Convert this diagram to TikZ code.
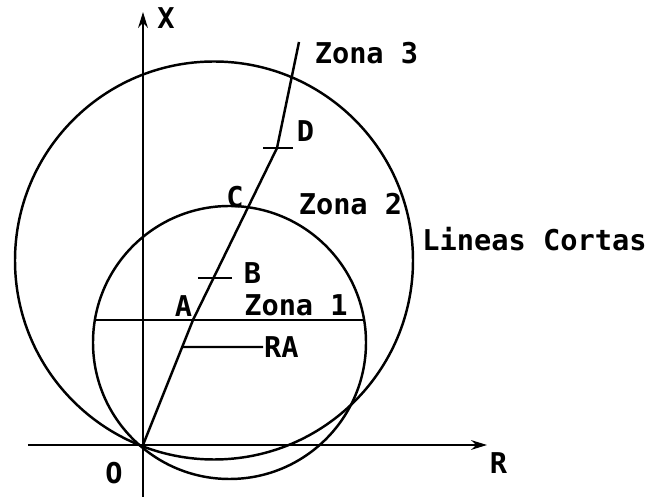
\documentclass[tikz,border=0pt]{standalone}
\usepackage{fontspec}
\setmonofont{DejaVu Sans Mono}
\usepackage{tikz}
\usetikzlibrary{arrows.meta, calc}

\begin{document}
\begin{tikzpicture}[>={Stealth[length=9pt, width=5.5pt]}, line width=1.4pt,
    lbl/.style={font=\ttfamily\bfseries\fontsize{16.3}{18}\selectfont, inner sep=0pt}]
  \useasboundingbox (-2.86, -1.12) rectangle (10.16, 8.9);

  \coordinate (O) at (0, 0);
  \coordinate (Xbot) at (0, -1.04);
  \coordinate (Xtop) at (0, 8.66);
  \coordinate (Rleft) at (-2.30, 0);
  \coordinate (Rright) at (6.88, 0);
  \draw[->] (Xbot) -- (Xtop);
  \draw[->] (Rleft) -- (Rright);

  \draw (1.73, 2.05) circle (2.73);
  \draw (1.42, 3.69) circle (3.98);

  \coordinate (Z1left) at (-0.96, 2.50);
  \coordinate (Z1right) at (4.42, 2.50);
  \draw (Z1left) -- (Z1right);

  \coordinate (A) at (1.00, 2.50);
  \coordinate (D) at (2.68, 5.94);
  \coordinate (Ltop) at (3.12, 8.06);
  \draw (O) -- (A) -- (D) -- (Ltop);

  \coordinate (B) at ($(A)!0.244!(D)$);
  \draw ($(B)+(-0.31, 0)$) -- ($(B)+(0.37, 0)$);
  \draw ($(D)+(-0.28, 0)$) -- ($(D)+(0.32, 0)$);

  \coordinate (RAfoot) at ($(O)!0.784!(A)$);
  \coordinate (RAend) at (2.40, 1.96);
  \draw (RAfoot) -- (RAend);

  \node[lbl] (lX) at (0.46, 8.54) {X};
  \node[lbl] (lZ3) at (4.47, 7.83) {Zona 3};
  \node[lbl] (lD) at (3.25, 6.27) {D};
  \node[lbl] (lC) at (1.84, 4.95) {C};
  \node[lbl] (lZ2) at (4.15, 4.82) {Zona 2};
  \node[lbl] (lLC) at (7.83, 4.11) {Lineas Cortas};
  \node[lbl] (lB) at (2.19, 3.44) {B};
  \node[lbl] (lA) at (0.81, 2.78) {A};
  \node[lbl] (lZ1) at (3.06, 2.80) {Zona 1};
  \node[lbl, anchor=west] (lRA) at (RAend) {RA};
  \node[lbl] (lO) at (-0.58, -0.56) {O};
  \node[lbl] (lR) at (7.11, -0.36) {R};
\end{tikzpicture}
\end{document}
